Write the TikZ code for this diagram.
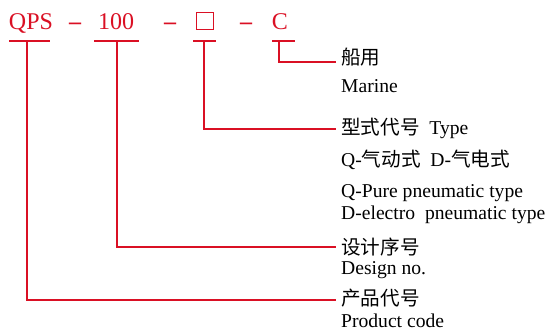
\documentclass[tikz,border=0pt]{standalone}
\usepackage{fontspec}
\setmainfont{Liberation Serif}
\newfontfamily\cjk{Noto Sans CJK SC}
\usepackage{tikz}
\usetikzlibrary{positioning, calc}
\definecolor{codered}{RGB}{218,16,36}

\begin{document}
\begin{tikzpicture}[
		x=1pt, y=-1pt,
		code/.style={text=codered, font=\fontsize{24}{24}\selectfont, inner sep=0pt, anchor=base},
		lab/.style={inner sep=0pt, anchor=base west, font=\fontsize{19.6}{19.6}\selectfont},
		leader/.style={draw=codered, line width=2pt}
		]
		\useasboundingbox (0,0) rectangle (550,331);
		
		% Model code
		\node[code] (qps) at (31,30) {QPS};
		\node[code] (dasha) at (75,30) {\bfseries –};
		\node[code] (num) at (116,30) {100};
		\node[code] (dashb) at (170,30) {\bfseries –};
		\node[draw=codered, line width=1pt, minimum size=17pt, inner sep=0pt] (typ) at (205,21.5) {};
		\node[code] (dashc) at (246,30) {\bfseries –};
		\node[code] (mar) at (280,30) {C};
		
		% Bars under the code
		\foreach \a/\b in {9/50, 94/139, 193/216, 272/295}
			\draw[leader] (\a,41) -- (\b,41);
		\coordinate (qpsbar) at (27,41);
		\coordinate (numbar) at (117,41);
		\coordinate (typbar) at (204,41);
		\coordinate (marbar) at (279,41);
		
		% Labels
		\node[lab] (cmar) at (341,65) {\cjk 船用};
		\node[lab] (emar) at (341,93) {Marine};
		\node[lab] (ctyp) at (341,135) {{\cjk 型式代号}\ \ Type};
		\node[lab] (ktyp) at (341,167) {Q-{\cjk 气动式}\ \ D-{\cjk 气电式}};
		\node[lab] (qtyp) at (341,198) {Q-Pure pneumatic type};
		\node[lab] (dtyp) at (341,220) {D-electro\ \ pneumatic type};
		\node[lab] (cnum) at (341,255) {\cjk 设计序号};
		\node[lab] (enum) at (341,275) {Design no.};
		\node[lab] (cqps) at (341,306) {\cjk 产品代号};
		\node[lab] (eqps) at (341,328) {Product code};
		
		% Leaders
		\draw[leader] (marbar) |- ([xshift=-5pt,yshift=3pt]cmar.base west);
		\draw[leader] (typbar) |- ([xshift=-5pt,yshift=6pt]ctyp.base west);
		\draw[leader] (numbar) |- ([xshift=-5pt,yshift=8pt]cnum.base west);
		\draw[leader] (qpsbar) |- ([xshift=-5pt,yshift=6pt]cqps.base west);
		
	\end{tikzpicture}
\end{document}
